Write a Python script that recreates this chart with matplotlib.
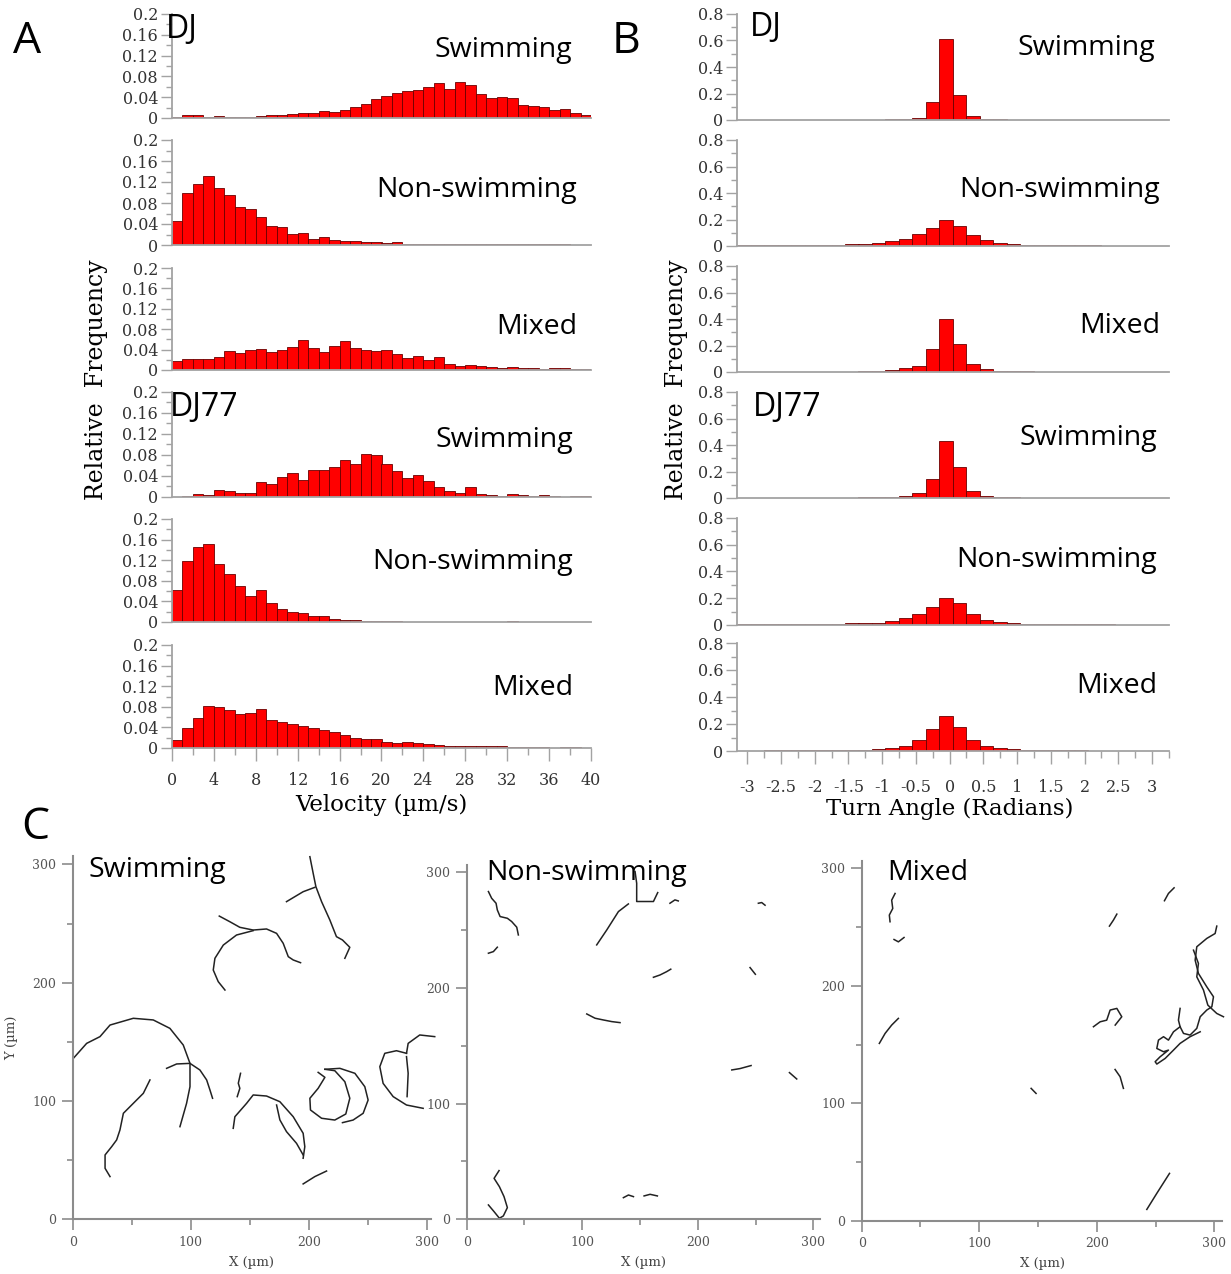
import numpy as np
import matplotlib
matplotlib.use("Agg")
import matplotlib.pyplot as plt
from matplotlib.ticker import MultipleLocator, FuncFormatter

plt.rcParams["axes.unicode_minus"] = False

# ---------------------------------------------------------------- data
velocity_edges = np.arange(0, 41, 1)                  # 1 um/s bins, 0-40
turn_edges = -3.15 + 0.2 * np.arange(33)              # 0.2 rad bins

row_labels = ["Swimming", "Non-swimming", "Mixed",
              "Swimming", "Non-swimming", "Mixed"]

dj_swim_vel = [0.002, 0.005, 0.006, 0.001, 0.004, 0.001, 0.002, 0.002, 0.003, 0.005,
               0.006, 0.007, 0.009, 0.009, 0.013, 0.012, 0.016, 0.022, 0.027, 0.036,
               0.042, 0.049, 0.052, 0.054, 0.059, 0.068, 0.056, 0.070, 0.063, 0.047,
               0.039, 0.041, 0.038, 0.025, 0.024, 0.022, 0.016, 0.018, 0.009, 0.006]
dj_non_vel = [0.046, 0.100, 0.116, 0.131, 0.108, 0.096, 0.073, 0.069, 0.053, 0.036,
              0.034, 0.021, 0.022, 0.012, 0.015, 0.010, 0.007, 0.007, 0.005, 0.005,
              0.004, 0.006, 0.002, 0.002, 0.002, 0.001, 0.002, 0.001, 0.001, 0.002,
              0.001, 0.001, 0.002, 0.001, 0.001, 0.001, 0.001, 0.001, 0.000, 0.000]
dj_mix_vel = [0.017, 0.021, 0.021, 0.021, 0.026, 0.038, 0.034, 0.039, 0.041, 0.036,
              0.040, 0.045, 0.059, 0.043, 0.036, 0.047, 0.056, 0.044, 0.040, 0.038,
              0.040, 0.031, 0.024, 0.027, 0.020, 0.025, 0.011, 0.008, 0.009, 0.008,
              0.005, 0.004, 0.005, 0.004, 0.004, 0.002, 0.003, 0.003, 0.002, 0.002]
dj77_swim_vel = [0.000, 0.002, 0.005, 0.004, 0.014, 0.011, 0.007, 0.007, 0.028, 0.024,
                 0.039, 0.046, 0.033, 0.051, 0.051, 0.057, 0.070, 0.062, 0.081, 0.080,
                 0.062, 0.049, 0.037, 0.042, 0.031, 0.019, 0.011, 0.008, 0.019, 0.005,
                 0.004, 0.001, 0.006, 0.004, 0.002, 0.003, 0.002, 0.000, 0.002, 0.001]
dj77_non_vel = [0.062, 0.118, 0.146, 0.152, 0.112, 0.093, 0.069, 0.050, 0.062, 0.037,
                0.025, 0.020, 0.017, 0.011, 0.011, 0.005, 0.004, 0.003, 0.002, 0.002,
                0.002, 0.001, 0.000, 0.000, 0.000, 0.000, 0.000, 0.000, 0.000, 0.000,
                0.000, 0.000, 0.001, 0.000, 0.000, 0.000, 0.000, 0.000, 0.000, 0.000]
dj77_mix_vel = [0.016, 0.038, 0.059, 0.081, 0.079, 0.074, 0.066, 0.068, 0.076, 0.055,
                0.050, 0.046, 0.042, 0.038, 0.035, 0.032, 0.026, 0.019, 0.018, 0.017,
                0.012, 0.010, 0.011, 0.009, 0.008, 0.006, 0.004, 0.004, 0.003, 0.004,
                0.003, 0.003, 0.001, 0.001, 0.002, 0.001, 0.000, 0.001, 0.001, 0.000]

dj_swim_turn = [0.002, 0.002, 0.002, 0.001, 0.002, 0.002, 0.001, 0.002, 0.002, 0.002,
                0.003, 0.004, 0.007, 0.013, 0.135, 0.610, 0.190, 0.030, 0.007, 0.004,
                0.003, 0.002, 0.002, 0.001, 0.001, 0.001, 0.001, 0.001, 0.001, 0.001,
                0.001, 0.001]
dj_non_turn = [0.004, 0.004, 0.005, 0.005, 0.006, 0.007, 0.008, 0.010, 0.012, 0.015,
               0.023, 0.035, 0.056, 0.088, 0.136, 0.195, 0.152, 0.086, 0.048, 0.025,
               0.015, 0.010, 0.007, 0.006, 0.005, 0.004, 0.004, 0.003, 0.003, 0.003,
               0.002, 0.002]
dj_mix_turn = [0.002, 0.002, 0.002, 0.002, 0.002, 0.002, 0.003, 0.003, 0.003, 0.004,
               0.007, 0.013, 0.028, 0.048, 0.177, 0.400, 0.215, 0.058, 0.020, 0.010,
               0.006, 0.004, 0.003, 0.003, 0.002, 0.002, 0.002, 0.002, 0.002, 0.002,
               0.002, 0.002]
dj77_swim_turn = [0.002, 0.002, 0.002, 0.002, 0.002, 0.002, 0.002, 0.003, 0.003, 0.004,
                  0.005, 0.008, 0.015, 0.038, 0.147, 0.428, 0.235, 0.051, 0.015, 0.007,
                  0.004, 0.003, 0.003, 0.002, 0.002, 0.002, 0.002, 0.002, 0.002, 0.002,
                  0.002, 0.002]
dj77_non_turn = [0.004, 0.004, 0.004, 0.004, 0.005, 0.005, 0.006, 0.008, 0.015, 0.015,
                 0.018, 0.030, 0.053, 0.081, 0.137, 0.205, 0.162, 0.080, 0.038, 0.022,
                 0.014, 0.010, 0.006, 0.005, 0.005, 0.004, 0.004, 0.004, 0.003, 0.003,
                 0.003, 0.003]
dj77_mix_turn = [0.003, 0.003, 0.004, 0.004, 0.004, 0.005, 0.005, 0.006, 0.008, 0.010,
                 0.015, 0.023, 0.035, 0.081, 0.160, 0.258, 0.180, 0.081, 0.038, 0.025,
                 0.015, 0.010, 0.006, 0.005, 0.004, 0.004, 0.003, 0.003, 0.003, 0.003,
                 0.002, 0.002]

velocity_series = [dj_swim_vel, dj_non_vel, dj_mix_vel,
                   dj77_swim_vel, dj77_non_vel, dj77_mix_vel]
turn_series = [dj_swim_turn, dj_non_turn, dj_mix_turn,
               dj77_swim_turn, dj77_non_turn, dj77_mix_turn]

# cell tracks (x, y in um)
swimming_tracks = [
    ([200.8, 203.6, 205.9, 210.7, 217.7, 223.3, 228.4, 234.6, 230.4],
     [306.5, 292.4, 281.1, 268.5, 253.0, 238.9, 236.1, 229.9, 220.6]),
    ([205.0, 195.1, 181.0], [280.6, 276.9, 268.5]),
    ([124.1, 133.1, 141.5, 152.8, 164.1, 172.6, 178.2, 182.5, 186.7, 192.9],
     [256.3, 251.5, 246.8, 244.5, 245.4, 241.7, 233.3, 222.0, 219.2, 216.9]),
    ([152.8, 138.7, 127.5, 120.4, 119.0, 123.2, 128.9],
     [244.0, 240.3, 231.8, 220.6, 210.7, 200.9, 193.8]),
    ([0.6, 11.8, 23.1, 31.6, 51.3, 68.2, 82.3, 93.6, 99.3, 99.3, 96.4, 90.8],
     [136.1, 148.7, 154.4, 164.2, 169.9, 168.5, 161.4, 147.3, 131.8, 112.1, 98.0, 78.3]),
    ([79.5, 88.0, 99.3, 107.7, 113.4, 116.2, 118.4],
     [127.6, 131.3, 131.8, 126.2, 117.8, 109.3, 102.3]),
    ([65.4, 59.8, 51.3, 42.9, 40.0, 37.2, 33.0, 27.4, 27.4, 31.6],
     [117.8, 106.5, 98.0, 89.6, 75.5, 67.1, 61.4, 54.4, 43.1, 36.1]),
    ([142.1, 140.2, 141.5, 139.3], [123.4, 115.0, 110.7, 103.7]),
    ([135.9, 137.3, 147.2, 152.8, 164.1, 175.4, 186.7, 195.1, 196.5, 195.1],
     [76.9, 86.7, 98.0, 105.1, 104.2, 99.4, 86.7, 72.7, 61.4, 51.6]),
    ([172.6, 175.4, 181.0, 189.5, 195.1], [96.6, 84.0, 74.1, 64.2, 54.4]),
    ([195.1, 205.0, 214.9], [29.9, 36.1, 40.8]),
    ([207.8, 213.5, 207.8, 200.8, 201.3, 210.7, 221.9, 231.2, 234.6, 230.4, 221.9, 213.5],
     [124.2, 120.0, 110.7, 102.3, 92.4, 85.4, 83.9, 89.0, 102.3, 116.3, 125.6, 126.8]),
    ([213.5, 226.2, 238.9, 247.3, 250.1, 245.9, 237.4, 228.4],
     [126.8, 127.6, 123.4, 112.1, 100.8, 89.6, 83.9, 81.7]),
    ([282.6, 274.1, 264.2, 260.0, 262.8, 271.3, 282.6, 296.7],
     [140.3, 142.5, 140.3, 129.0, 114.9, 103.7, 96.6, 93.8]),
    ([282.6, 284.0, 293.8, 306.5], [140.3, 148.7, 155.8, 154.4]),
    ([282.6, 284.0, 283.1], [137.5, 123.4, 103.7]),
]

nonswimming_tracks = [
    ([18.8, 21.6, 25.4, 26.5, 28.9, 35.2, 38.9, 43.3, 44.7],
     [283.3, 277.5, 273.2, 267.4, 261.7, 260.2, 257.4, 252.5, 245.8]),
    ([18.8, 23.1, 26.5], [230.0, 231.4, 235.2]),
    ([112.5, 121.2, 131.3, 139.9], [237.2, 250.1, 266.0, 272.6]),
    ([145.7, 147.1, 147.1, 161.6, 165.3], [300.6, 290.5, 274.7, 274.7, 282.4]),
    ([175.9, 180.2, 183.1], [273.2, 276.1, 275.2]),
    ([252.4, 255.3, 258.2], [273.2, 273.8, 271.5]),
    ([161.6, 167.3, 173.1, 176.6], [209.2, 211.2, 214.1, 216.2]),
    ([245.2, 249.8], [217.6, 211.8]),
    ([103.9, 111.1, 118.3, 125.5, 132.7], [177.5, 173.8, 172.3, 170.9, 170.0]),
    ([229.4, 236.6, 246.1], [129.1, 130.3, 132.9]),
    ([279.3, 285.6], [126.8, 121.3]),
    ([28.0, 23.7, 28.3, 32.3, 35.2, 31.7, 28.3, 23.7, 18.8],
     [42.1, 35.4, 28.2, 19.6, 10.1, 2.9, 0.9, 6.6, 12.4]),
    ([135.6, 140.0, 144.3], [18.7, 21.0, 19.6]),
    ([153.5, 158.7, 165.0], [20.2, 21.6, 20.2]),
]

mixed_tracks = [
    ([28.4, 25.5, 26.4, 23.5, 24.1], [278.7, 273.0, 265.9, 260.3, 254.6]),
    ([27.5, 31.2, 36.0], [239.5, 237.5, 241.2]),
    ([15.0, 19.9, 25.5, 31.2], [151.0, 159.5, 166.6, 172.3]),
    ([265.7, 260.9, 257.5], [283.5, 278.7, 272.5]),
    ([217.0, 214.1, 210.7], [261.1, 256.0, 250.9]),
    ([197.1, 202.8, 208.4, 211.3, 217.0, 221.2, 215.6],
     [165.2, 169.4, 170.8, 179.4, 180.8, 173.7, 166.6]),
    ([215.5, 219.8, 222.6], [128.8, 122.6, 112.7]),
    ([144.1, 148.3], [112.7, 108.4]),
    ([242.5, 251.0, 261.8], [9.6, 23.3, 40.3]),
    ([302.0, 300.6, 293.5, 285.0, 283.6, 286.4, 293.5, 299.2, 297.8, 293.5, 287.9,
      285.0, 279.3, 273.7, 270.8, 269.4, 270.8],
     [250.9, 244.6, 240.4, 233.3, 221.9, 210.6, 199.2, 190.7, 182.2, 179.4, 173.7,
      163.8, 158.1, 159.5, 165.2, 170.8, 180.8]),
    ([282.2, 286.4, 285.0, 290.7, 294.4, 302.0, 307.7],
     [230.4, 219.1, 207.7, 196.4, 183.6, 176.5, 173.7]),
    ([270.8, 265.2, 260.9, 256.7, 252.4, 251.0, 256.7, 260.9, 253.8, 249.6, 251.0,
      258.1, 265.2, 270.8, 279.3, 287.9],
     [165.2, 160.9, 153.8, 156.7, 153.8, 146.7, 143.9, 145.3, 139.6, 135.4, 133.4,
      138.2, 145.3, 151.0, 156.7, 160.9]),
]

track_titles = ["Swimming", "Non-swimming", "Mixed"]

# ---------------------------------------------------------------- layout
W, H = 1231, 1274
fig = plt.figure(figsize=(W / 100, H / 100), dpi=100)

SANS = "Open Sans"
SERIF = "DejaVu Serif"
AXIS_GREY = "#a3a3a3"
TICK_TEXT = "#333333"
BAR_RED = "#ff0000"
BAR_EDGE = "#6a0000"
LABEL_SIZE = 20.5


def px_box(left, top, right, bottom):
    return [left / W, 1 - bottom / H, (right - left) / W, (bottom - top) / H]


def fig_text(x, y, s, **kw):
    fig.text(x / W, 1 - y / H, s, **kw)


def tick_fmt(v, _pos):
    return "0" if abs(v) < 1e-9 else f"{v:g}"


def style_hist(ax, ymax, major, minor, bottom_row, xmajor, xminor, xpad):
    for side in ("top", "right"):
        ax.spines[side].set_visible(False)
    for side in ("left", "bottom"):
        ax.spines[side].set_color(AXIS_GREY)
        ax.spines[side].set_linewidth(1.3)
    ax.set_ylim(0, ymax)
    ax.yaxis.set_major_locator(MultipleLocator(major))
    ax.yaxis.set_minor_locator(MultipleLocator(minor))
    ax.yaxis.set_major_formatter(FuncFormatter(tick_fmt))
    ax.tick_params(axis="y", which="major", length=8, width=1, color=AXIS_GREY,
                   labelsize=11.5, labelcolor=TICK_TEXT, pad=2)
    ax.tick_params(axis="y", which="minor", length=4, width=1, color=AXIS_GREY)
    if bottom_row:
        ax.xaxis.set_major_locator(MultipleLocator(xmajor))
        ax.xaxis.set_minor_locator(MultipleLocator(xminor))
        ax.xaxis.set_major_formatter(FuncFormatter(tick_fmt))
        ax.tick_params(axis="x", which="major", length=9, width=1, color=AXIS_GREY,
                       labelsize=11.5, labelcolor=TICK_TEXT, pad=xpad)
        ax.tick_params(axis="x", which="minor", length=5, width=1, color=AXIS_GREY)
    else:
        ax.tick_params(axis="x", which="both", bottom=False, labelbottom=False)
    for lab in ax.get_yticklabels() + ax.get_xticklabels():
        lab.set_family(SERIF)
    ax.patch.set_alpha(0)


A_rows = [(14, 118), (140, 245), (268, 370), (392, 497), (519, 622), (645, 748)]
B_rows = [(14, 120), (140, 246), (266, 372), (392, 498), (518, 625), (643, 751)]

# Panel A: velocity distributions
for i, (top, bottom) in enumerate(A_rows):
    ax = fig.add_axes(px_box(172, top, 591, bottom))
    ax.bar(velocity_edges[:-1], velocity_series[i], width=np.diff(velocity_edges),
           align="edge", color=BAR_RED, edgecolor=BAR_EDGE, linewidth=0.6)
    ax.set_xlim(velocity_edges[0], velocity_edges[-1])
    style_hist(ax, 0.2, 0.04, 0.02, i == 5, 4, 2, 8)

# Panel B: turn-angle distributions
for i, (top, bottom) in enumerate(B_rows):
    ax = fig.add_axes(px_box(737, top, 1169, bottom))
    ax.bar(turn_edges[:-1], turn_series[i], width=np.diff(turn_edges),
           align="edge", color=BAR_RED, edgecolor=BAR_EDGE, linewidth=0.6)
    ax.set_xlim(turn_edges[0], turn_edges[-1])
    style_hist(ax, 0.8, 0.2, 0.1, i == 5, 0.5, 0.25, 11)

# row annotations
A_label_pos = [(572, 50), (577, 190), (577, 327), (573, 440), (573, 562), (573, 688)]
B_label_pos = [(1155, 48), (1160, 190), (1160, 326), (1157, 438), (1157, 560), (1157, 686)]
for (x, y), text in zip(A_label_pos, row_labels):
    fig_text(x, y, text, family=SANS, fontsize=LABEL_SIZE, ha="right", va="center")
for (x, y), text in zip(B_label_pos, row_labels):
    fig_text(x, y, text, family=SANS, fontsize=LABEL_SIZE, ha="right", va="center")
for x, y, text in [(166, 30, "DJ"), (170, 407, "DJ77"), (750, 27, "DJ"), (753, 407, "DJ77")]:
    fig_text(x, y, text, family=SANS, fontsize=23, ha="left", va="center")

for x in (97, 676):
    fig_text(x, 380, "Relative  Frequency", family=SERIF, fontsize=17,
             rotation=90, ha="center", va="center")
fig_text(381, 805, "Velocity (\u00b5m/s)", family=SERIF, fontsize=16.5, ha="center", va="center")
fig_text(950, 809, "Turn Angle (Radians)", family=SERIF, fontsize=16.5, ha="center", va="center")

# panel letters
for x, y, letter in [(27, 42, "A"), (626, 42, "B"), (35, 828, "C")]:
    fig_text(x, y, letter, family=SANS, fontsize=32, ha="center", va="center")

# Panel C: cell trajectories
C_boxes = [
    (72.7, 856.1, 430.6, 1219.3, 303, 307),
    (466.7, 865.3, 820.3, 1219.3, 306, 306),
    (861.7, 860.7, 1222.3, 1220.7, 306.7, 306.6),
]
C_tracks = [swimming_tracks, nonswimming_tracks, mixed_tracks]
C_title_pos = [(89, 870), (486, 873), (887, 873)]

for k, (l, t, r, b, xmax, ymax) in enumerate(C_boxes):
    ax = fig.add_axes(px_box(l, t, r, b))
    ax.patch.set_alpha(0)
    for xs, ys in C_tracks[k]:
        ax.plot(xs, ys, color="#222222", linewidth=1.1, clip_on=False,
                solid_joinstyle="round")
    ax.set_xlim(0, xmax)
    ax.set_ylim(0, ymax)
    for side in ("top", "right"):
        ax.spines[side].set_visible(False)
    for side in ("left", "bottom"):
        ax.spines[side].set_color("#8c8c8c")
        ax.spines[side].set_linewidth(1.5)
    for axis in (ax.xaxis, ax.yaxis):
        axis.set_major_locator(MultipleLocator(100))
        axis.set_minor_locator(MultipleLocator(50))
    ax.tick_params(which="major", length=8, width=1.2, color="#8c8c8c",
                   labelsize=9, labelcolor="#555555", pad=4)
    ax.tick_params(which="minor", length=4, width=1.2, color="#8c8c8c")
    for lab in ax.get_xticklabels() + ax.get_yticklabels():
        lab.set_family(SERIF)
    ax.set_xlabel("X (\u00b5m)", family=SERIF, fontsize=9.5, color="#444444", labelpad=5)
    if k == 0:
        ax.set_ylabel("Y (\u00b5m)", family=SERIF, fontsize=9.5, color="#444444", labelpad=10)
    x, y = C_title_pos[k]
    fig_text(x, y, track_titles[k], family=SANS, fontsize=LABEL_SIZE, ha="left", va="center")

fig.savefig("out.png", dpi=100, facecolor="white")
